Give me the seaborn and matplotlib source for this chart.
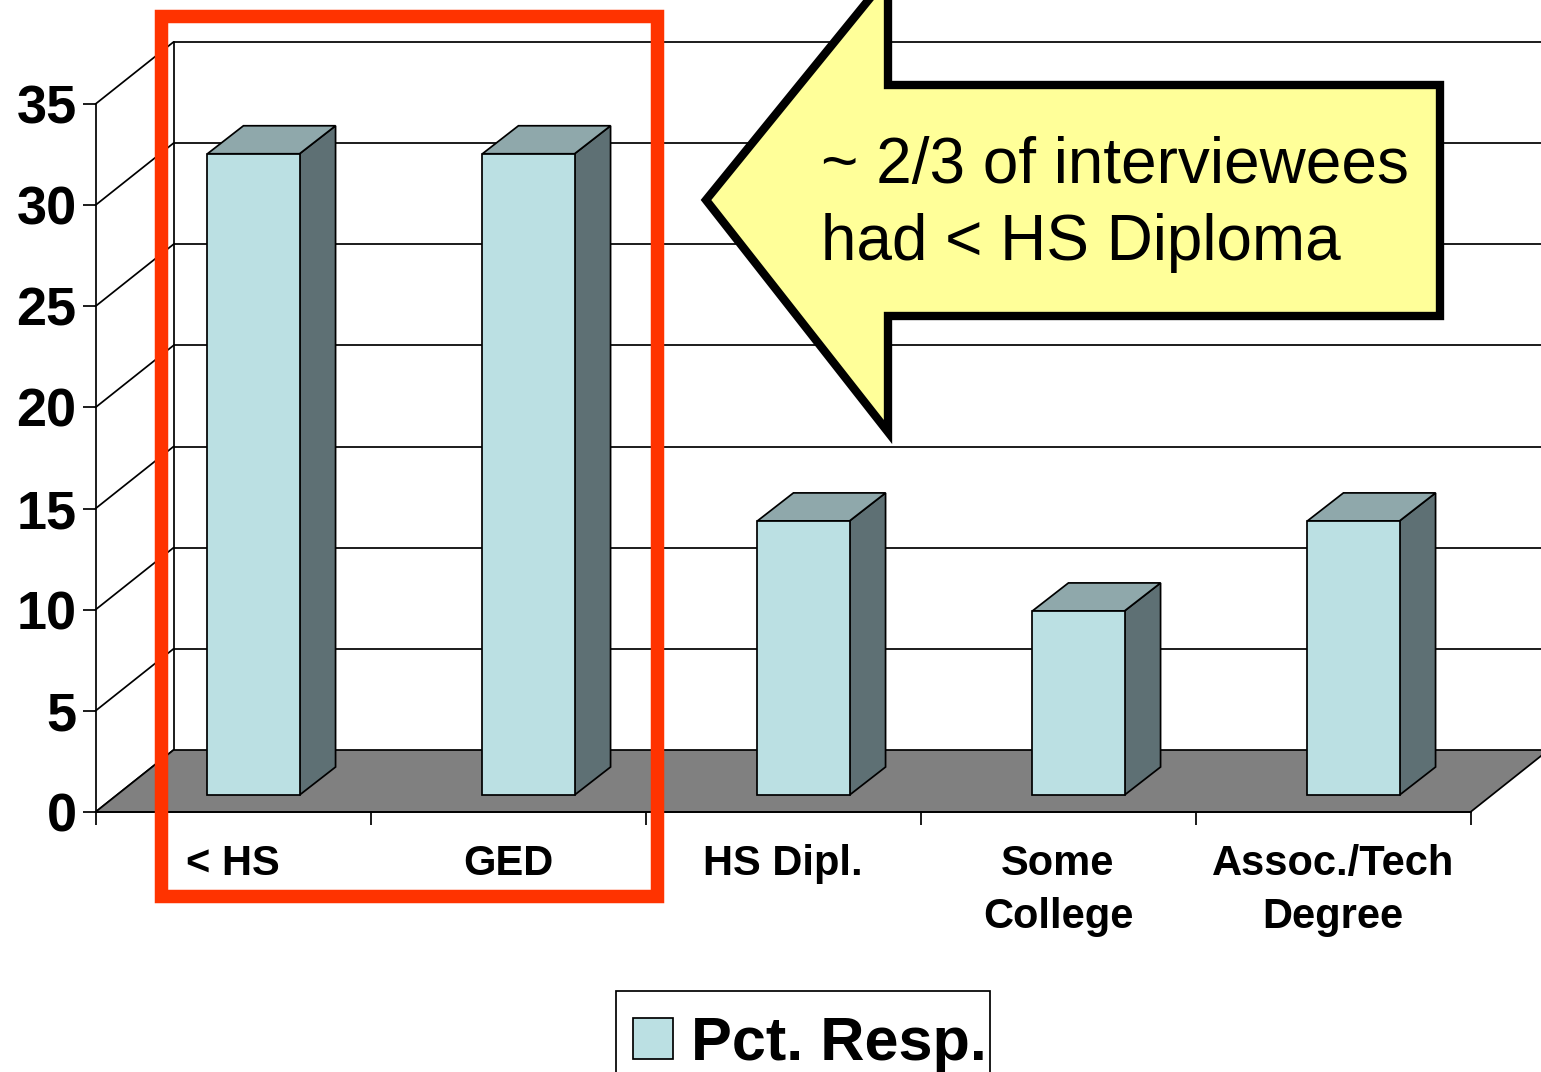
import matplotlib
matplotlib.use("Agg")
import matplotlib.pyplot as plt
from matplotlib.patches import Polygon, Rectangle
from matplotlib.ticker import FixedLocator
from matplotlib.transforms import Affine2D
import seaborn as sns

categories = ["< HS", "GED", "HS Dipl.", "Some\nCollege", "Assoc./Tech\nDegree"]
values = [31.7, 31.7, 13.55, 9.1, 13.55]
y_ticks = [0, 5, 10, 15, 20, 25, 30, 35]
series_name = "Pct. Resp."
callout = "~ 2/3 of interviewees\nhad < HS Diploma"

W, H = 1541, 1072
FRONT, SIDE, TOP = "#BBE0E3", "#5E7074", "#8FA8AB"
LW = 1.25

sns.set_style("white")
plt.rcParams["font.family"] = ["Liberation Sans", "DejaVu Sans"]
plt.rcParams["text.color"] = "black"
plt.rcParams["xtick.labelcolor"] = "black"
plt.rcParams["ytick.labelcolor"] = "black"
plt.rcParams["xtick.color"] = "black"
plt.rcParams["ytick.color"] = "black"

fig = plt.figure(figsize=(W / 100, H / 100), dpi=100)
L, R, T, B = 95.5, 1470.5, 104, 812
ax = fig.add_axes([L / W, 1 - B / H, (R - L) / W, (B - T) / H])

sns.barplot(x=categories, y=values, color=FRONT, saturation=1, width=0.335,
            edgecolor="black", linewidth=LW, label=series_name, ax=ax, zorder=5)
ax.set_xlim(-0.5, 4.5)
ax.set_ylim(0, 35)
ax.patch.set_alpha(0)
sx = 5 / (R - L)
sy = 35 / (B - T)

# depth offsets of the 3-D look, converted to data units
wall_dx, wall_dy = 78 * sx, 62 * sy
right_end = (W + 5 - L) * sx - 0.5

# back wall and side wall grid
for v in y_ticks:
    if v > 0:
        ax.plot([-0.5 + wall_dx, right_end], [v + wall_dy] * 2, color="black", lw=LW,
                clip_on=False, zorder=1)
    ax.plot([-0.5, -0.5 + wall_dx], [v, v + wall_dy], color="black", lw=LW,
            clip_on=False, zorder=1)
ax.plot([-0.5 + wall_dx] * 2, [wall_dy, 35 + wall_dy], color="black", lw=LW,
        clip_on=False, zorder=1)

# floor
ax.add_patch(Polygon([(-0.5, 0), (-0.5 + wall_dx, wall_dy), (right_end, wall_dy),
                      (4.5 + wall_dx, wall_dy), (4.5, 0)],
                     closed=True, facecolor="#808080", edgecolor="black", lw=LW,
                     clip_on=False, zorder=2))

# bars: shift the fronts and add side and top faces
fx, fy = 20.5 * sx, 17 * sy
bx, by = 36 * sx, 28 * sy
for patch in ax.containers[0]:
    patch.set_x(patch.get_x() + fx)
    patch.set_y(fy)
    patch.set_clip_on(False)
    x0, w, h = patch.get_x(), patch.get_width(), patch.get_height()
    x1 = x0 + w
    ax.add_patch(Polygon([(x1, fy), (x1 + bx, fy + by), (x1 + bx, fy + by + h), (x1, fy + h)],
                         closed=True, facecolor=SIDE, edgecolor="black", lw=LW,
                         clip_on=False, zorder=4))
    ax.add_patch(Polygon([(x0, fy + h), (x0 + bx, fy + h + by), (x1 + bx, fy + h + by), (x1, fy + h)],
                         closed=True, facecolor=TOP, edgecolor="black", lw=LW,
                         clip_on=False, zorder=4))

# axes
sns.despine(ax=ax, top=True, right=True)
for s in ("left", "bottom"):
    ax.spines[s].set_linewidth(LW)
    ax.spines[s].set_color("black")
    ax.spines[s].set_zorder(3)
ax.set_yticks(y_ticks)
ax.tick_params(axis="y", length=9.5, width=LW, left=True, pad=4, labelsize=39)
for t in ax.get_yticklabels():
    t.set_fontweight("bold")
ax.xaxis.set_minor_locator(FixedLocator([-0.5, 0.5, 1.5, 2.5, 3.5, 4.5]))
ax.tick_params(axis="x", which="minor", length=9, width=LW, bottom=True)
ax.tick_params(axis="x", which="major", length=0, pad=23, labelsize=30)
for t in ax.get_xticklabels():
    t.set_fontweight("bold")
    t.set_linespacing(1.42)
    t.set_verticalalignment("top")

# overlay shapes and legend frame in image pixels
px = Affine2D().scale(1, -1).translate(0, H)
fig.add_artist(Rectangle((616, 991), 374, 100, transform=px, facecolor="white",
                         edgecolor="black", lw=LW, zorder=-1))

# legend
leg = ax.legend(loc="upper left", bbox_to_anchor=(633 / W, 1 - 1016 / H),
                bbox_transform=fig.transFigure, frameon=False, borderpad=0, borderaxespad=0,
                handlelength=0.65, handleheight=0.65, handletextpad=0.3,
                prop={"weight": "bold", "size": 44})
leg.legend_handles[0].set_edgecolor("black")

fig.add_artist(Rectangle((161, 16), 496, 880, transform=px, fill=False,
                         edgecolor="#FF3300", lw=9.7, joinstyle="miter", zorder=10))
fig.add_artist(Polygon([(706, 200), (888, -24), (888, 85), (1440, 85), (1440, 316),
                        (888, 316), (888, 432)], closed=True, transform=px,
                       facecolor="#FFFF99", edgecolor="black", lw=6, joinstyle="miter", zorder=11))
fig.text(821 / W, 1 - 136 / H, callout, fontsize=46, color="black", va="top", ha="left",
         linespacing=1.37, zorder=12)

fig.savefig("out.png", dpi=100)
